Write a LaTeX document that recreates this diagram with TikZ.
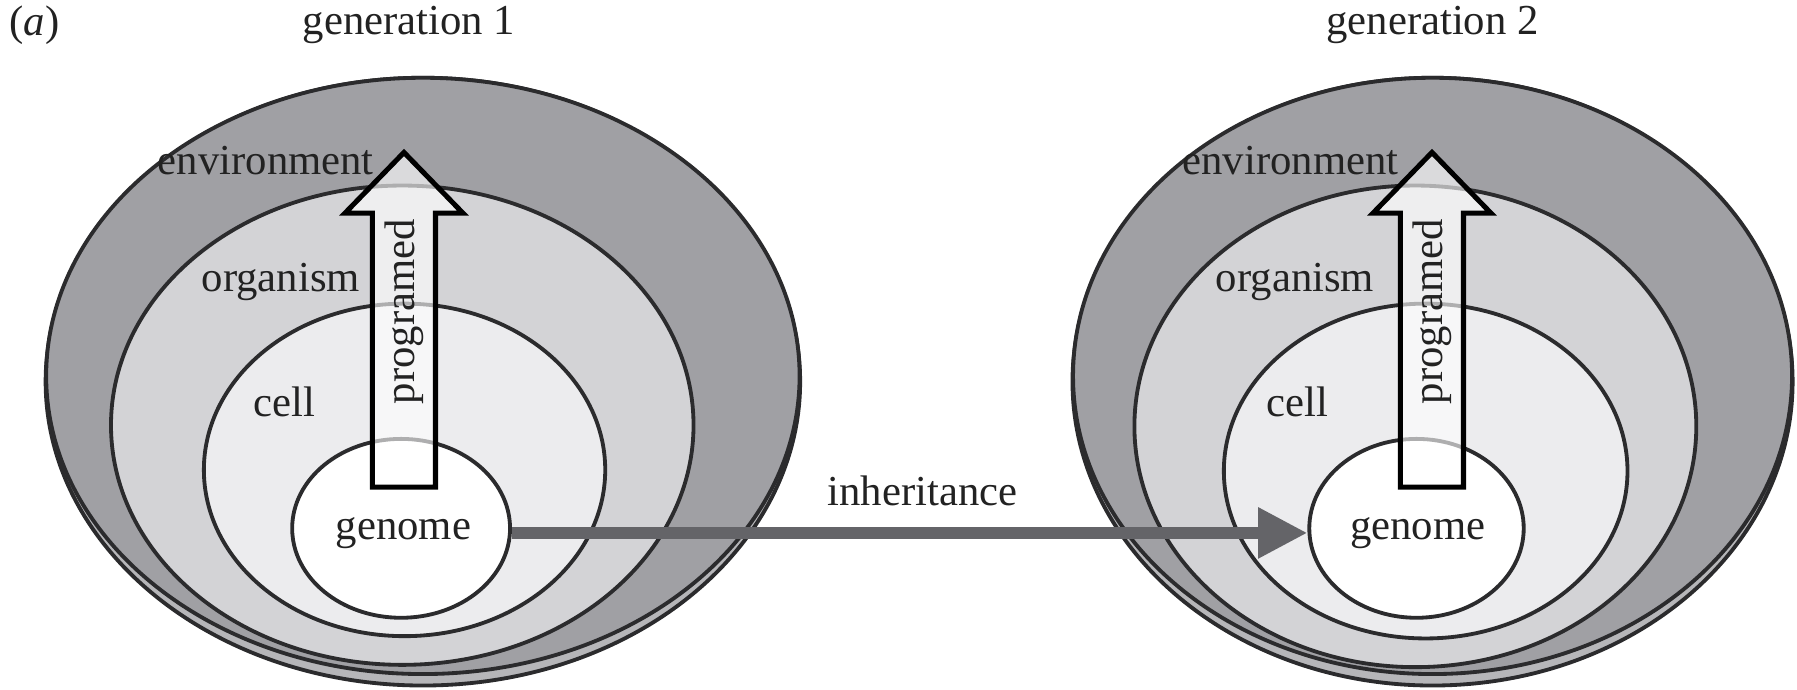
\documentclass[tikz,border=0pt]{standalone}
\usepackage{fontspec}
\setmainfont{Liberation Serif}
\usetikzlibrary{shapes.geometric,arrows.meta}
\definecolor{envgray}{HTML}{A0A0A4}
\definecolor{rimgray}{HTML}{B6B6B9}
\definecolor{orggray}{HTML}{D3D3D6}
\definecolor{cellgray}{HTML}{ECECEE}
\definecolor{inkline}{HTML}{2B2B2D}
\definecolor{inhgray}{HTML}{646468}
\definecolor{txt}{HTML}{222222}

\begin{document}
\begin{tikzpicture}[x=0.01cm,y=-0.01cm,
  ring/.style={ellipse, draw=inkline, line width=0.95pt, inner sep=0pt},
  lbl/.style={font=\fontsize{10.6}{12}\selectfont, text=txt, inner sep=0pt},
  progarrow/.style={draw=black, line width=1.25pt, fill=white, fill opacity=0.62, line join=miter},
  inharrow/.style={draw=inhgray, line width=0.1cm, -{Triangle[length=0.43cm, width=0.42cm]}}]
\useasboundingbox (0,0) rectangle (1568,602);

% ---------- generation 1 ----------
\node[ring, fill=rimgray, minimum width=6.58cm, minimum height=5.30cm] (rim1) at (369,333) {};
\node[ring, fill=envgray, minimum width=6.57cm, minimum height=5.20cm] (env1) at (369,328) {};
\node[ring, fill=orggray, minimum width=5.08cm, minimum height=4.18cm] (org1) at (351,371) {};
\node[ring, fill=cellgray, minimum width=3.50cm, minimum height=2.90cm] (cell1) at (353,410) {};
\node[ring, fill=white, minimum width=1.90cm, minimum height=1.56cm] (gen1) at (350,461) {};

% ---------- generation 2 ----------
\node[ring, fill=rimgray, minimum width=6.28cm, minimum height=5.30cm] (rim2) at (1250,333) {};
\node[ring, fill=envgray, minimum width=6.27cm, minimum height=5.20cm] (env2) at (1250,328) {};
\node[ring, fill=orggray, minimum width=4.90cm, minimum height=4.20cm] (org2) at (1235,372) {};
\node[ring, fill=cellgray, minimum width=3.52cm, minimum height=2.92cm] (cell2) at (1244,411) {};
\node[ring, fill=white, minimum width=1.87cm, minimum height=1.56cm] (gen2) at (1236,461) {};

% inheritance from genome to genome
\draw[inharrow] ([yshift=-0.04cm]gen1.east) -- ([yshift=-0.04cm]gen2.west);
\node[lbl] (inh) at (805,428) {inheritance};

% programed arrows (translucent block arrows)
\draw[progarrow] (325,425) -- (325,186) -- (301,186) -- (352.5,133) -- (404,186) -- (380,186) -- (380,425) -- cycle;
\draw[progarrow] (1222,425) -- (1222,186) -- (1198,186) -- (1249.5,133) -- (1301,186) -- (1277,186) -- (1277,425) -- cycle;
\node[lbl, rotate=90] (prog1) at (353,272) {programed};
\node[lbl, rotate=90] (prog2) at (1250,272) {programed};

% labels
\node[lbl] (panel) at (30,22) {(\textit{a})};
\node[lbl] (title1) at (357,22) {generation 1};
\node[lbl] (title2) at (1250,22) {generation 2};

\node[lbl] (envlab1) at (232,140) {environment};
\node[lbl] (orglab1) at (245,246) {organism};
\node[lbl] (celllab1) at (248,351) {cell};
\node[lbl] (genlab1) at (352,465) {genome};

\node[lbl] (envlab2) at (1126,140) {environment};
\node[lbl] (orglab2) at (1130,246) {organism};
\node[lbl] (celllab2) at (1132,351) {cell};
\node[lbl] (genlab2) at (1237,465) {genome};
\end{tikzpicture}
\end{document}
